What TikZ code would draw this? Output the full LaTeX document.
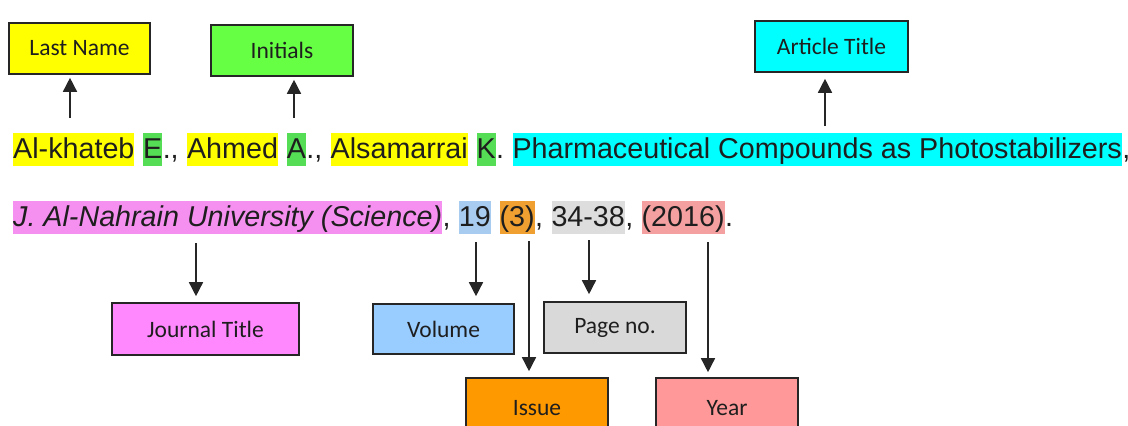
\documentclass[tikz,border=0pt]{standalone}
\usepackage{fontspec}
\setmainfont{Liberation Sans}
\newfontfamily\lblfam{Carlito}
\usetikzlibrary{arrows.meta}
\definecolor{hYellow}{HTML}{FFFF00}
\definecolor{hGreen}{HTML}{55DD55}
\definecolor{bGreen}{HTML}{66FF44}
\definecolor{hCyan}{HTML}{00FFFF}
\definecolor{hPink}{HTML}{F590F0}
\definecolor{bPink}{HTML}{FF88FF}
\definecolor{hBlue}{HTML}{A8CCF0}
\definecolor{bBlue}{HTML}{99CCFF}
\definecolor{hOrange}{HTML}{F0A030}
\definecolor{bOrange}{HTML}{FF9900}
\definecolor{hGray}{HTML}{DDDDDD}
\definecolor{bGray}{HTML}{D9D9D9}
\definecolor{hRed}{HTML}{F4A0A0}
\definecolor{bRed}{HTML}{FF9999}
\definecolor{ink}{HTML}{1E1E1E}
\newcommand\txtsize{\fontsize{28.7}{34}\selectfont}
\newcommand\spc{\kern7.98pt}
\tikzset{
  hl/.style={fill=#1, inner xsep=0pt, inner ysep=0pt, text height=25.5pt, text depth=7pt, anchor=base west, font=\txtsize, text=ink},
  pl/.style={inner xsep=0pt, inner ysep=0pt, text height=25.5pt, text depth=7pt, anchor=base west, font=\txtsize, text=ink},
  lbl/.style={draw=black!85, line width=1.6pt, fill=#1, inner sep=0pt, font={\lblfam\fontsize{23.5}{28}\selectfont}, text=ink},
  arr/.style={-{Triangle[width=14pt,length=14pt]}, line width=1.5pt, black!85}
}
\begin{document}
\begin{tikzpicture}[x=1pt,y=-1pt]
\useasboundingbox (0,0) rectangle (1128,426);
\clip (0,0) rectangle (1128,426);
% label boxes
\node[lbl=hYellow, minimum width=141pt, minimum height=51pt] (lastname) at (79.5,48.5) {Last Name};
\node[lbl=bGreen, minimum width=142pt, minimum height=51pt] (initials) at (282,50.5) {Initials};
\node[lbl=hCyan, minimum width=153pt, minimum height=51pt] (arttitle) at (831.5,46.5) {Article Title};
\node[lbl=bPink, minimum width=187pt, minimum height=52pt] (journal) at (205.5,329) {Journal Title};
\node[lbl=bBlue, minimum width=141pt, minimum height=50pt] (volume) at (443.5,329) {Volume};
\node[lbl=bGray, minimum width=142pt, minimum height=51pt] (page) at (615,327.5) {Page no.};
\node[lbl=bOrange, minimum width=142pt, minimum height=60pt] (issue) at (537,408) {Issue};
\node[lbl=bRed, minimum width=142pt, minimum height=60pt] (year) at (727,408) {Year};
% line 1
\node[hl=hYellow] (w1) at (13,158.5) {Al-khateb};
\node[pl] (s1) at (w1.base east) {\spc};
\node[hl=hGreen] (i1) at (s1.base east) {E};
\node[pl] (s2) at (i1.base east) {.,\spc};
\node[hl=hYellow] (w2) at (s2.base east) {Ahmed};
\node[pl] (s3) at (w2.base east) {\spc};
\node[hl=hGreen] (i2) at (s3.base east) {A};
\node[pl] (s4) at (i2.base east) {.,\spc};
\node[hl=hYellow] (w3) at (s4.base east) {Alsamarrai};
\node[pl] (s5) at (w3.base east) {\spc};
\node[hl=hGreen] (i3) at (s5.base east) {K};
\node[pl] (s6) at (i3.base east) {.\spc};
\node[hl=hCyan] (title) at (s6.base east) {Pharmaceutical Compounds as Photostabilizers};
\node[pl] (s7) at (title.base east) {,};
% line 2
\node[hl=hPink] (jt) at (13,226.5) {\itshape J. Al-Nahrain University (Science)};
\node[pl] (t1) at (jt.base east) {,\spc};
\node[hl=hBlue] (vol) at (t1.base east) {19};
\node[pl] (t2) at (vol.base east) {\spc};
\node[hl=hOrange] (iss) at (t2.base east) {(3)};
\node[pl] (t3) at (iss.base east) {,\spc};
\node[hl=hGray] (pg) at (t3.base east) {34-38};
\node[pl] (t4) at (pg.base east) {,\spc};
\node[hl=hRed] (yr) at (t4.base east) {(2016)};
\node[pl] (t5) at (yr.base east) {.};
% arrow tails
\coordinate (aLast) at (70,118);
\coordinate (aInit) at (294,118);
\coordinate (aTitle) at (825,126);
\coordinate (aJour) at (196,243);
\coordinate (aVol) at (476,242);
\coordinate (aPage) at (589,240);
\coordinate (aIss) at (529,241);
\coordinate (aYear) at (708,242);
% arrows
\draw[arr, shorten >=3pt] (aLast) -- (aLast |- lastname.south);
\draw[arr, shorten >=3pt] (aInit) -- (aInit |- initials.south);
\draw[arr, shorten >=6pt] (aTitle) -- (aTitle |- arttitle.south);
\draw[arr, shorten >=6pt] (aJour) -- (aJour |- journal.north);
\draw[arr, shorten >=7pt] (aVol) -- (aVol |- volume.north);
\draw[arr, shorten >=7pt] (aPage) -- (aPage |- page.north);
\draw[arr, shorten >=6pt] (aIss) -- (aIss |- issue.north);
\draw[arr, shorten >=5pt] (aYear) -- (aYear |- year.north);
\end{tikzpicture}
\end{document}
